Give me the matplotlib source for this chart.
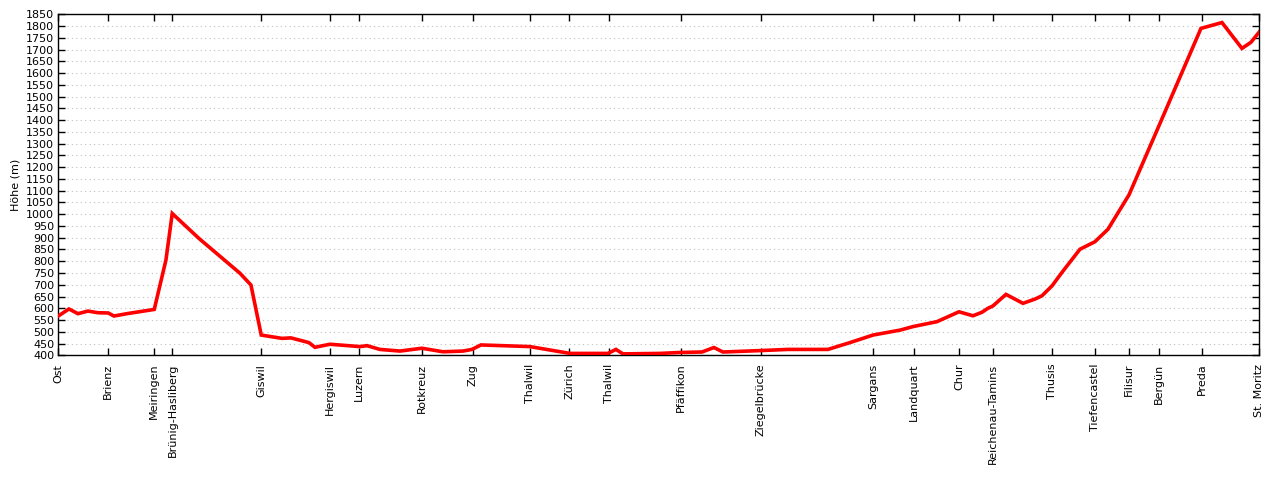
import numpy as np
import matplotlib.pyplot as plt

# elevation profile, distance along route (arbitrary units) vs. height in m
dist = [0, 10.7, 19.7, 29.7, 39.7, 50, 55.7, 68.7, 96, 107.7, 114, 140.7, 181.7, 192.7,
        203, 223.7, 232.7, 250.7, 256.7, 271.7, 301.7, 308.7, 321.7, 341.7, 363.7, 384.7,
        404.7, 413.7, 422.7, 471.7, 511.7, 549.7, 557.7, 564.7, 601.7, 621.7, 643.7, 655.7,
        664.7, 701.7, 729.7, 769.7, 791.7, 814.7, 841.7, 854.7, 878.7, 889.7, 900.7, 914.7,
        923.7, 929.7, 934.7, 947.7, 964.7, 976.7, 983.7, 993.7, 1004.7, 1021.7, 1036.7,
        1049.7, 1070.7, 1100.7, 1142.7, 1163.7, 1183.7, 1192.7, 1201]
hoehe = [567, 597, 577, 588, 581, 580, 567, 577, 595, 805, 1003, 897, 749, 699,
         486, 472, 474, 454, 434, 447, 437, 441, 425, 418, 430, 415,
         418, 425, 444, 437, 408, 408, 425, 406, 408, 412, 414, 433,
         414, 420, 425, 425, 454, 486, 507, 522, 543, 564, 585, 568,
         583, 600, 610, 659, 621, 639, 653, 695, 758, 851, 883,
         936, 1082, 1376, 1790, 1815, 1705, 1731, 1775]

stationen = ["Ost", "Brienz", "Meiringen", "Brünig-Hasliberg", "Giswil", "Hergiswil",
             "Luzern", "Rotkreuz", "Zug", "Thalwil", "Zürich", "Thalwil", "Pfäffikon",
             "Ziegelbrücke", "Sargans", "Landquart", "Chur", "Reichenau-Tamins", "Thusis",
             "Tiefencastel", "Filisur", "Bergün", "Preda", "St. Moritz"]
station_dist = [0, 50, 96, 114.2, 203, 271.7, 301, 363.4, 414.4, 471.7, 511, 550.4, 622.4,
                702.4, 815, 856, 901, 934.4, 994, 1036.4, 1071, 1101, 1143.4, 1201]

plt.rcParams['font.family'] = ['DejaVu Sans']
plt.rcParams['font.size'] = 8

fig = plt.figure(figsize=(12.8, 4.8), dpi=100)
ax = fig.add_axes([0.0455, 0.2598, 0.9383, 0.7104])

ax.plot(dist, hoehe, color="#ff0000", lw=2.6, solid_joinstyle="miter", zorder=3)

ax.set_xlim(0, 1201)
ax.set_ylim(400, 1850)
ax.set_yticks(np.arange(400, 1851, 50))
ax.set_xticks(station_dist)
ax.set_xticklabels(stationen, rotation=90, ha="center", va="top")

ax.tick_params(axis="both", direction="in", length=5, width=1, color="black",
               top=True, right=True, pad=3)
ax.tick_params(axis="x", pad=6)
ax.grid(axis="y", linestyle=(0, (1, 3)), color="#c0c0c0", lw=0.8)
for s in ax.spines.values():
    s.set_linewidth(1)

ax.set_ylabel("Höhe (m)", labelpad=4)

plt.savefig("out.png")
